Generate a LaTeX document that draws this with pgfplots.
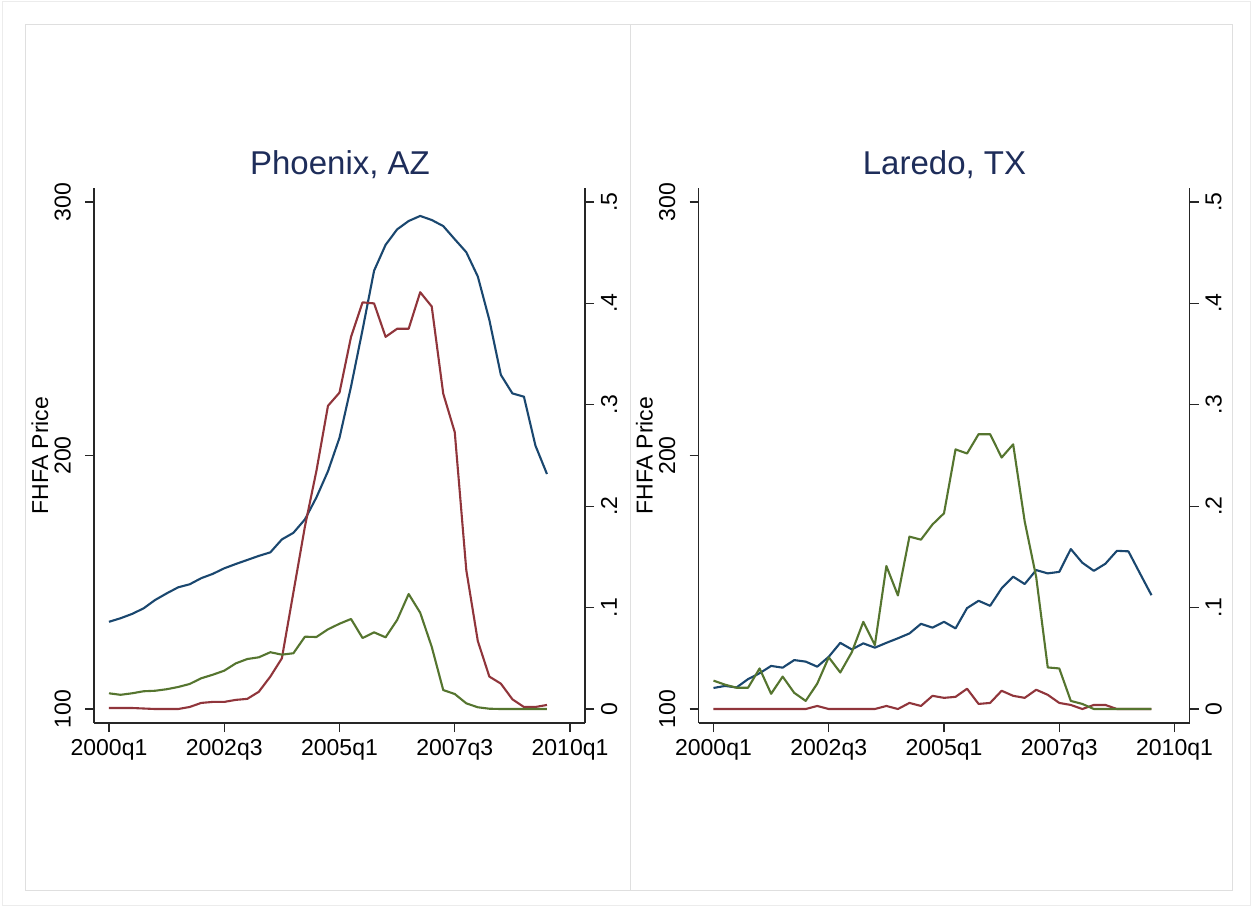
\documentclass[border=0pt]{standalone}
\usepackage{fontspec}
\setmainfont{Liberation Sans}
\usepackage{pgfplots}
\pgfplotsset{compat=1.18}
\usepackage{pgfplotstable}

\definecolor{snavy}{RGB}{26,71,111}
\definecolor{smaroon}{RGB}{144,53,59}
\definecolor{sgreen}{RGB}{85,117,47}
\definecolor{ttl}{RGB}{30,45,90}

\pgfplotstableread{
q price red green
0 134.4 0.001 0.0155
1 135.8 0.001 0.014
2 137.5 0.001 0.0155
3 139.7 0.0005 0.0175
4 143.0 0 0.018
5 145.6 0 0.0195
6 148.0 0 0.0217
7 149.2 0.002 0.0247
8 151.6 0.006 0.0303
9 153.3 0.007 0.0338
10 155.5 0.007 0.0378
11 157.2 0.009 0.045
12 158.8 0.010 0.0493
13 160.4 0.017 0.051
14 161.8 0.032 0.056
15 166.9 0.050 0.0536
16 169.5 0.115 0.055
17 174.8 0.180 0.0713
18 183.5 0.235 0.071
19 193.8 0.299 0.0786
20 207.0 0.312 0.0841
21 227.2 0.367 0.0888
22 249.6 0.401 0.070
23 272.9 0.400 0.0756
24 283.1 0.367 0.0707
25 289.2 0.375 0.0878
26 292.5 0.375 0.1134
27 294.5 0.411 0.095
28 292.9 0.397 0.0614
29 290.5 0.311 0.0187
30 285.3 0.273 0.0148
31 280.2 0.137 0.0056
32 270.6 0.067 0.0017
33 253.5 0.032 0.0003
34 231.8 0.025 0
35 224.5 0.0096 0
36 223.2 0.002 0
37 203.9 0.002 0
38 192.7 0.004 0
}\phx

\pgfplotstableread{
q price red green
0 108.3 0 0.028
1 109.1 0 0.024
2 108.5 0 0.021
3 111.8 0 0.021
4 114.1 0 0.040
5 117.0 0 0.015
6 116.3 0 0.032
7 119.3 0 0.016
8 118.7 0 0.008
9 116.7 0.003 0.025
10 120.6 0 0.051
11 126.1 0 0.036
12 123.5 0 0.056
13 125.9 0 0.086
14 124.2 0 0.063
15 126.1 0.003 0.141
16 127.9 0 0.112
17 129.8 0.006 0.170
18 133.6 0.003 0.167
19 132.1 0.013 0.182
20 134.4 0.011 0.193
21 131.8 0.012 0.256
22 139.8 0.020 0.252
23 142.7 0.005 0.271
24 140.7 0.006 0.271
25 147.6 0.018 0.248
26 152.2 0.013 0.261
27 149.3 0.011 0.185
28 154.8 0.019 0.130
29 153.5 0.014 0.041
30 154.1 0.006 0.040
31 163.1 0.004 0.008
32 157.7 0 0.005
33 154.5 0.004 0
34 157.3 0.004 0
35 162.4 0 0
36 162.2 0 0
37 153.5 0 0
38 144.9 0 0
}\lrd

\pgfplotsset{
  base/.style={
    scale only axis, width=245.5pt, height=267.5pt,
    xmin=-1.3, xmax=41.3,
    xtick={0,10,20,30,40},
    tick align=outside, major tick length=4.5pt,
    tick style={line width=0.65pt, black!85},
    axis line style={line width=0.65pt, black!85, -},
    ticklabel style={font=\fontsize{11.5}{13}\selectfont},
    clip=false,
  },
  leftax/.style={
    base,
    axis x line*=bottom, axis y line*=left,
    ymin=94.48, ymax=305.52,
    ytick={100,200,300}, yticklabels={100,200,300},
    xticklabels={2000q1,2002q3,2005q1,2007q3,2010q1},
    yticklabel style={xshift=-3.5pt, rotate=90, anchor=south},
    ylabel={FHFA Price},
    every axis y label/.style={at={(axis description cs:-0.11,0.5)}, rotate=90, anchor=center, font=\fontsize{11.5}{13}\selectfont},
  },
  rightax/.style={
    base,
    axis x line=none, axis y line*=right,
    ymin=-0.0138, ymax=0.5138,
    ytick={0,0.1,0.2,0.3,0.4,0.5}, yticklabels={0,.1,.2,.3,.4,.5},
    yticklabel style={rotate=90, anchor=north},
  },
  ln/.style={line width=1.05pt, line join=round},
}

\begin{document}
\begin{tikzpicture}
\useasboundingbox (0,0) rectangle (626pt,453.5pt);
\fill[white] (0,0) rectangle (626pt,453.5pt);
\draw[gray!15, line width=0.5pt] (1pt,1pt) rectangle (625pt,452.5pt);
\draw[gray!25, line width=0.5pt] (12.5pt,8.5pt) rectangle (315pt,441pt);
\draw[gray!25, line width=0.5pt] (315pt,8.5pt) rectangle (616pt,441pt);

% Phoenix
\begin{axis}[leftax, at={(47pt,92pt)}, anchor=south west]
  \addplot[ln, snavy] table[x=q, y=price] {\phx};
\end{axis}
\begin{axis}[rightax, at={(47pt,92pt)}, anchor=south west]
  \addplot[ln, smaroon] table[x=q, y=red] {\phx};
  \addplot[ln, sgreen] table[x=q, y=green] {\phx};
\end{axis}
\node[anchor=base, text=ttl, font=\fontsize{16.5}{19}\selectfont] at (170pt,366.5pt) {Phoenix, AZ};

% Laredo
\begin{axis}[leftax, at={(349.25pt,92pt)}, anchor=south west]
  \addplot[ln, snavy] table[x=q, y=price] {\lrd};
\end{axis}
\begin{axis}[rightax, at={(349.25pt,92pt)}, anchor=south west]
  \addplot[ln, smaroon] table[x=q, y=red] {\lrd};
  \addplot[ln, sgreen] table[x=q, y=green] {\lrd};
\end{axis}
\node[anchor=base, text=ttl, font=\fontsize{16.5}{19}\selectfont] at (472.25pt,366.5pt) {Laredo, TX};
\end{tikzpicture}
\end{document}
